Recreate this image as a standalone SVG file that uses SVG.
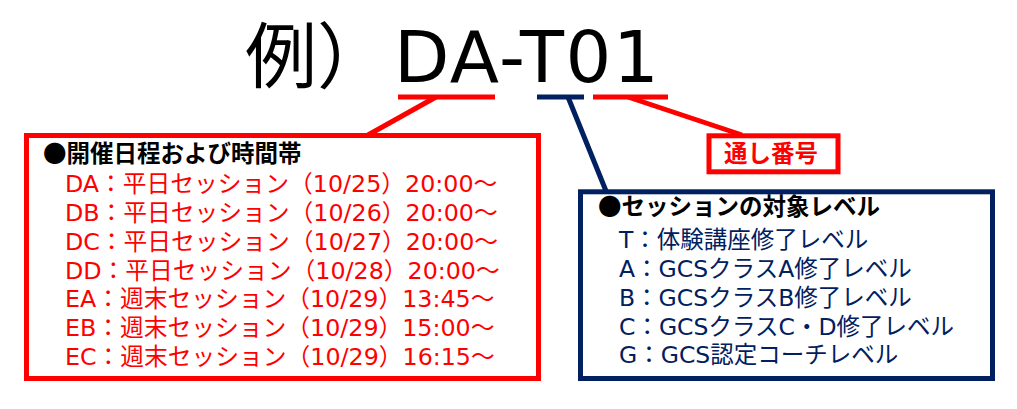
<svg xmlns="http://www.w3.org/2000/svg" width="1017" height="409" viewBox="0 0 1017 409">
<style>
.t{font-family:"DejaVu Sans","Noto Sans CJK JP",sans-serif;font-size:23.5px}
.tr{font-size:23.75px}
.h{font-family:"Noto Sans CJK JP",sans-serif;font-size:23.5px;font-weight:bold}
.ttl{font-family:"DejaVu Sans","Noto Sans CJK JP",sans-serif;font-size:72px;fill:#000}
.red{fill:#FF0000}
.navy{fill:#002060}
.blk{fill:#000}
.rb{fill:none;stroke:#FF0000;stroke-width:5}
.nb{fill:none;stroke:#002060;stroke-width:5}
.rl{stroke:#FF0000;stroke-width:5}
.nl{stroke:#002060;stroke-width:5}
</style>
<rect width="1017" height="409" fill="#fff"/>
<g id="title">
<text class="ttl" x="245" y="82">例）</text>
<text class="ttl" x="394" y="82" letter-spacing="1.6">DA-T01</text>
</g>
<g id="connectors">
<line class="rl" x1="398" y1="97" x2="495" y2="97"/>
<line class="nl" x1="537" y1="97" x2="584" y2="97"/>
<line class="rl" x1="593" y1="97" x2="668" y2="97"/>
<line class="rl" x1="436" y1="97" x2="368" y2="135"/>
<line class="nl" x1="568" y1="97" x2="606" y2="191"/>
<line class="rl" x1="628" y1="97" x2="742" y2="135"/>
</g>
<g id="node-schedule">
<rect class="rb" x="26.5" y="135.5" width="512" height="243"/>
<text class="h blk" x="43" y="161.5">●開催日程および時間帯</text>
<text class="t tr red" x="65" y="192">DA：平日セッション（10/25）20:00～</text>
<text class="t tr red" x="65" y="220.8">DB：平日セッション（10/26）20:00～</text>
<text class="t tr red" x="65" y="249.7">DC：平日セッション（10/27）20:00～</text>
<text class="t tr red" x="65" y="278.5">DD：平日セッション（10/28）20:00～</text>
<text class="t tr red" x="65" y="307.3">EA：週末セッション（10/29）13:45～</text>
<text class="t tr red" x="65" y="336.2">EB：週末セッション（10/29）15:00～</text>
<text class="t tr red" x="65" y="365">EC：週末セッション（10/29）16:15～</text>
</g>
<g id="node-serial">
<rect class="rb" x="709" y="135.8" width="129" height="36"/>
<text class="h red" x="771" y="161.7" text-anchor="middle">通し番号</text>
</g>
<g id="node-level">
<rect class="nb" x="580.5" y="191.8" width="412" height="186.7"/>
<text class="h blk" x="598" y="215">●セッションの対象レベル</text>
<text class="t navy" x="619" y="247.5">T：体験講座修了レベル</text>
<text class="t navy" x="619" y="276.5">A：GCSクラスA修了レベル</text>
<text class="t navy" x="619" y="305.5">B：GCSクラスB修了レベル</text>
<text class="t navy" x="619" y="334.5">C：GCSクラスC・D修了レベル</text>
<text class="t navy" x="619" y="363">G：GCS認定コーチレベル</text>
</g>
</svg>
